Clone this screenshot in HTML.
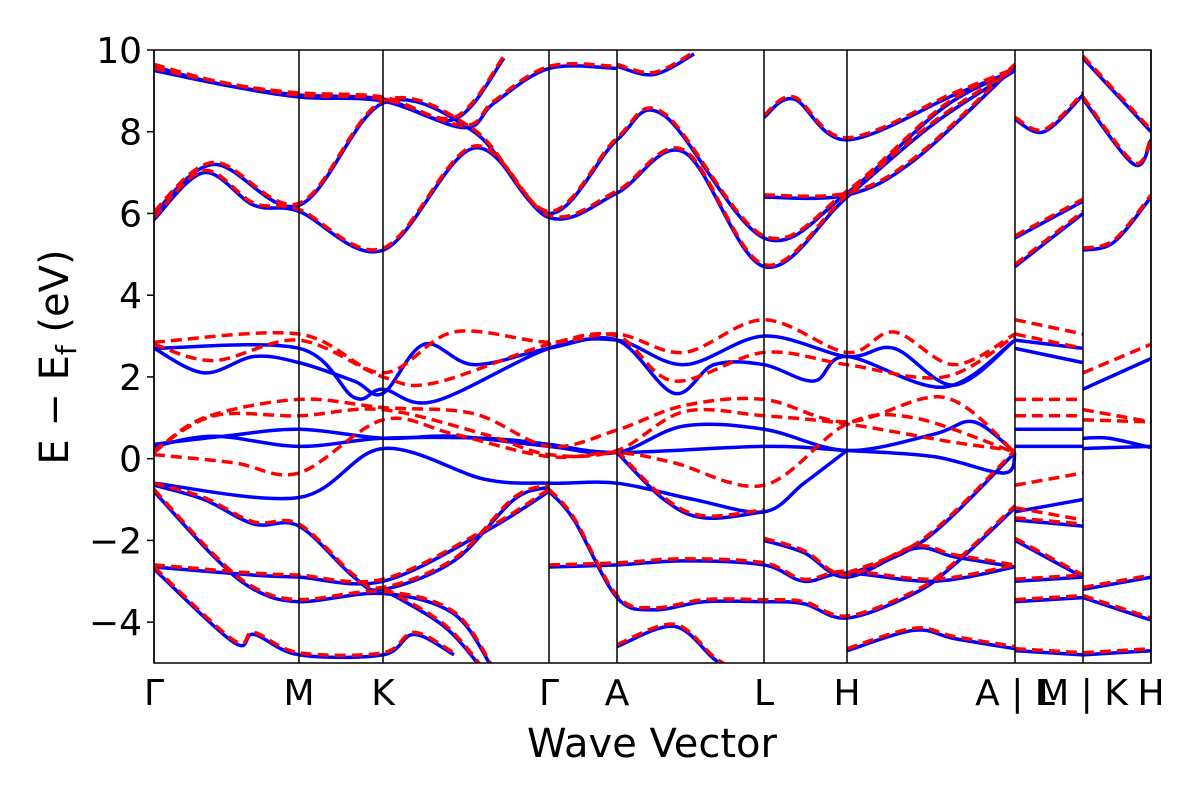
<!DOCTYPE html>
<html><head><meta charset="utf-8"><style>
body{margin:0;background:#fff;width:1200px;height:800px;overflow:hidden}
svg text{font-family:"DejaVu Sans","Liberation Sans",sans-serif;fill:#000}
</style></head><body>
<svg id="chart" width="1200" height="800" xmlns="http://www.w3.org/2000/svg">
<defs><clipPath id="pc"><rect x="154" y="50" width="997" height="613"/></clipPath></defs>
<g id="bands" clip-path="url(#pc)"></g>
<g id="axes"></g>
</svg>
<script>
const yTicks=[-4,-2,0,2,4,6,8,10];
const kTickPos=[0,145,229,395,463,610,693,861,929,997];
const kTickLabels=["Γ","M","K","Γ","A","L","H","A | L","M | K","H"];
const sharedBands=[
[[0,9.6],[60,9.2],[145,8.85],[229,8.75],[310,8.1],[340,8.7],[395,9.55],[463,9.55]],
[[0,5.85],[50,7.0],[100,6.2],[145,6.05],[229,5.1],[320,7.6],[395,5.9],[463,6.5],[530,7.5],[610,4.7],[693,6.4],[780,8.2],[861,9.5]],
[[0,6.0],[60,7.2],[145,6.2],[229,8.7],[320,8.0],[395,6.0],[463,7.8],[510,8.4],[610,5.4],[693,6.5],[790,8.6],[861,9.5]],
[[0,9.5],[80,9.1],[145,8.9],[229,8.8],[300,8.3],[350,9.8]],
[[463,9.6],[500,9.4],[540,9.9]],
[[610,6.4],[693,6.45],[760,7.3],[861,9.6]],
[[610,8.35],[640,8.8],[693,7.8],[800,8.9],[861,9.5]],
[[0,-0.65],[50,-1.0],[100,-1.6],[145,-1.65],[200,-2.9],[229,-3.2],[300,-2.5],[360,-1.0],[395,-0.7]],
[[0,-0.8],[60,-2.4],[100,-3.2],[145,-3.5],[229,-3.3],[300,-3.8],[340,-5.2]],
[[0,-2.65],[100,-2.85],[145,-2.9],[229,-3.0],[330,-1.8],[395,-0.8]],
[[0,-2.7],[80,-4.5],[100,-4.3],[145,-4.8],[229,-4.8],[260,-4.3],[300,-4.8]],
[[229,-3.2],[290,-4.1],[330,-5.2]],
[[395,-2.65],[463,-2.6],[530,-2.5],[610,-2.6],[650,-3.0],[693,-2.8],[780,-3.0],[861,-2.65]],
[[395,-0.8],[420,-1.5],[463,-3.4],[500,-3.7],[550,-3.5],[610,-3.5],[650,-3.55],[693,-3.9],[760,-3.3],[800,-2.6],[861,-1.2]],
[[463,-4.6],[520,-4.1],[560,-4.9],[580,-5.2]],
[[610,-2.0],[650,-2.3],[693,-2.9],[760,-2.2],[800,-2.4],[861,-2.65]],
[[693,-4.7],[760,-4.2],[800,-4.4],[861,-4.65]],
[[861,4.7],[929,6.0]],[[861,5.4],[929,6.3]],[[861,8.3],[890,8.0],[929,8.9]],
[[861,-2.0],[929,-2.9]],[[861,-3.0],[929,-2.9]],[[861,-3.5],[929,-3.4]],[[861,-4.7],[929,-4.8]],[[861,-1.5],[929,-1.65]],
[[929,5.1],[960,5.3],[997,6.4]],[[929,8.8],[980,7.2],[997,7.8]],[[929,9.8],[997,8.0]],
[[929,-3.2],[997,-2.9]],[[929,-3.4],[997,-3.95]],[[929,-4.8],[997,-4.7]],
[[463,0.15],[510,-1.0],[550,-1.45],[610,-1.3]],
[[693,-2.85],[770,-2.0],[861,0.15]]
];
const blueBands=[
[[0,0.35],[70,0.55],[145,0.72],[229,0.5],[300,0.55],[395,0.3],[463,0.15],[530,0.8],[610,0.72],[693,0.2],[780,0.6],[820,0.9],[861,0.15]],
[[0,0.3],[60,0.55],[145,0.3],[229,0.5],[330,0.5],[395,0.35],[463,0.15],[610,0.3],[693,0.2],[780,0.05],[850,-0.35],[861,0.15]],
[[0,-0.6],[145,-0.95],[229,0.25],[330,-0.5],[395,-0.6],[463,-0.6],[540,-1.0],[610,-1.3],[650,-0.6],[693,0.2]],
[[0,2.7],[50,2.1],[100,2.5],[145,2.35],[200,1.9],[229,1.6],[270,2.8],[320,2.3],[395,2.7],[463,2.9],[520,1.6],[560,2.3],[610,2.3],[660,1.9],[693,2.5],[790,1.75],[861,2.9]],
[[0,2.7],[145,2.7],[200,1.5],[229,1.7],[280,1.4],[395,2.7],[463,2.9],[530,2.3],[610,3.0],[693,2.5],[740,2.7],[800,1.8],[861,2.9]],
[[861,2.9],[929,2.7]],[[861,2.7],[929,2.35]],[[861,0.72],[929,0.72]],[[861,0.3],[929,0.3]],[[861,-1.3],[929,-1.0]],
[[929,1.7],[997,2.45]],[[929,0.5],[955,0.5],[997,0.27]],[[929,0.25],[997,0.3]]
];
const redBands=[
[[0,2.85],[145,3.05],[229,2.1],[300,3.1],[395,2.85],[463,3.05],[530,2.6],[610,3.4],[693,2.6],[740,3.1],[800,2.3],[861,3.05]],
[[0,2.8],[60,2.4],[145,2.9],[229,2.0],[280,1.85],[395,2.8],[463,3.0],[520,1.9],[610,2.6],[693,2.3],[790,2.0],[861,3.0]],
[[0,0.15],[50,1.0],[145,1.45],[229,1.25],[320,1.1],[395,0.3],[463,0.7],[530,1.3],[610,1.45],[693,0.9],[790,1.5],[861,0.15]],
[[0,0.2],[60,1.05],[145,1.05],[229,1.2],[330,0.6],[395,0.1],[463,0.2],[530,1.15],[610,1.05],[693,0.85],[800,0.4],[861,0.2]],
[[0,0.1],[80,-0.1],[145,-0.35],[229,0.95],[300,0.6],[395,0.05],[463,0.15],[520,-0.1],[610,-0.65],[693,0.85],[760,1.0],[861,0.15]],
[[861,3.4],[929,3.05]],[[861,3.05],[929,2.7]],[[861,1.45],[929,1.45]],[[861,1.05],[929,1.05]],[[861,-0.65],[929,-0.35]],[[861,-1.2],[929,-1.5]],
[[929,2.1],[997,2.8]],[[929,1.2],[997,0.9]],[[929,0.95],[997,0.9]]
];
const NS="http://www.w3.org/2000/svg";
const X0=154,X1=1151,Y0=50,Y1=663,KMAX=997,EMIN=-5,EMAX=10;
const xs=k=>X0+k/KMAX*(X1-X0);
const ys=e=>Y1-(e-EMIN)/(EMAX-EMIN)*(Y1-Y0);
function pathD(pts){
  const p=pts.map(q=>[xs(q[0]),ys(q[1])]);
  let d="M"+p[0][0]+","+p[0][1];
  for(let i=0;i<p.length-1;i++){
    const a=p[Math.max(0,i-1)],b=p[i],c=p[i+1],e=p[Math.min(p.length-1,i+2)];
    const c1=[b[0]+(c[0]-a[0])/6,b[1]+(c[1]-a[1])/6],c2=[c[0]-(e[0]-b[0])/6,c[1]-(e[1]-b[1])/6];
    d+=" C"+c1+" "+c2+" "+c;
  }
  return d;
}
const g=document.getElementById("bands");
function draw(pts,color,dash,name){
  const el=document.createElementNS(NS,"path");
  el.setAttribute("d",pathD(pts));
  el.setAttribute("fill","none");el.setAttribute("stroke",color);el.setAttribute("stroke-width","3.5");
  if(dash)el.setAttribute("stroke-dasharray","11,6");
  
  
  g.appendChild(el);
}
sharedBands.forEach(b=>draw(b,"#0000ff",false,"band-blue"));
blueBands.forEach(b=>draw(b,"#0000ff",false,"band-blue"));
sharedBands.forEach(b=>draw(b.map(q=>[q[0],q[1]+0.05]),"#ff0000",true,"band-red"));
redBands.forEach(b=>draw(b,"#ff0000",true,"band-red"));
const ax=document.getElementById("axes");
function add(tag,attrs,text){const el=document.createElementNS(NS,tag);for(const k in attrs)el.setAttribute(k,attrs[k]);if(text!==undefined)el.textContent=text;ax.appendChild(el);return el;}
kTickPos.forEach((k,i)=>{
  const l=add("line",{x1:xs(k),x2:xs(k),y1:Y0,y2:Y1,stroke:"#000","stroke-width":1.5});
  
  
  const t=add("text",{x:xs(k),y:705,"font-size":36,"text-anchor":"middle"},kTickLabels[i]);
  
  
});
yTicks.forEach(v=>{
  const tk=add("line",{x1:X0-7,x2:X0,y1:ys(v),y2:ys(v),stroke:"#000","stroke-width":1.5});
  
  
  const t=add("text",{x:X0-12,y:ys(v)+13,"font-size":36,"text-anchor":"end"},v<0?"−"+(-v):String(v));
  
  
});
const fr=add("rect",{x:X0,y:Y0,width:X1-X0,height:Y1-Y0,fill:"none",stroke:"#000","stroke-width":1.5});


const xt=add("text",{x:652,y:757,"font-size":40,"text-anchor":"middle"},"Wave Vector");


const yt=add("text",{x:0,y:0,"font-size":40,"text-anchor":"middle",transform:"translate(68,357) rotate(-90)"});
yt.innerHTML='E − E<tspan font-size="28" dy="8">f</tspan><tspan dy="-8"> (eV)</tspan>';


</script>
</body></html>
